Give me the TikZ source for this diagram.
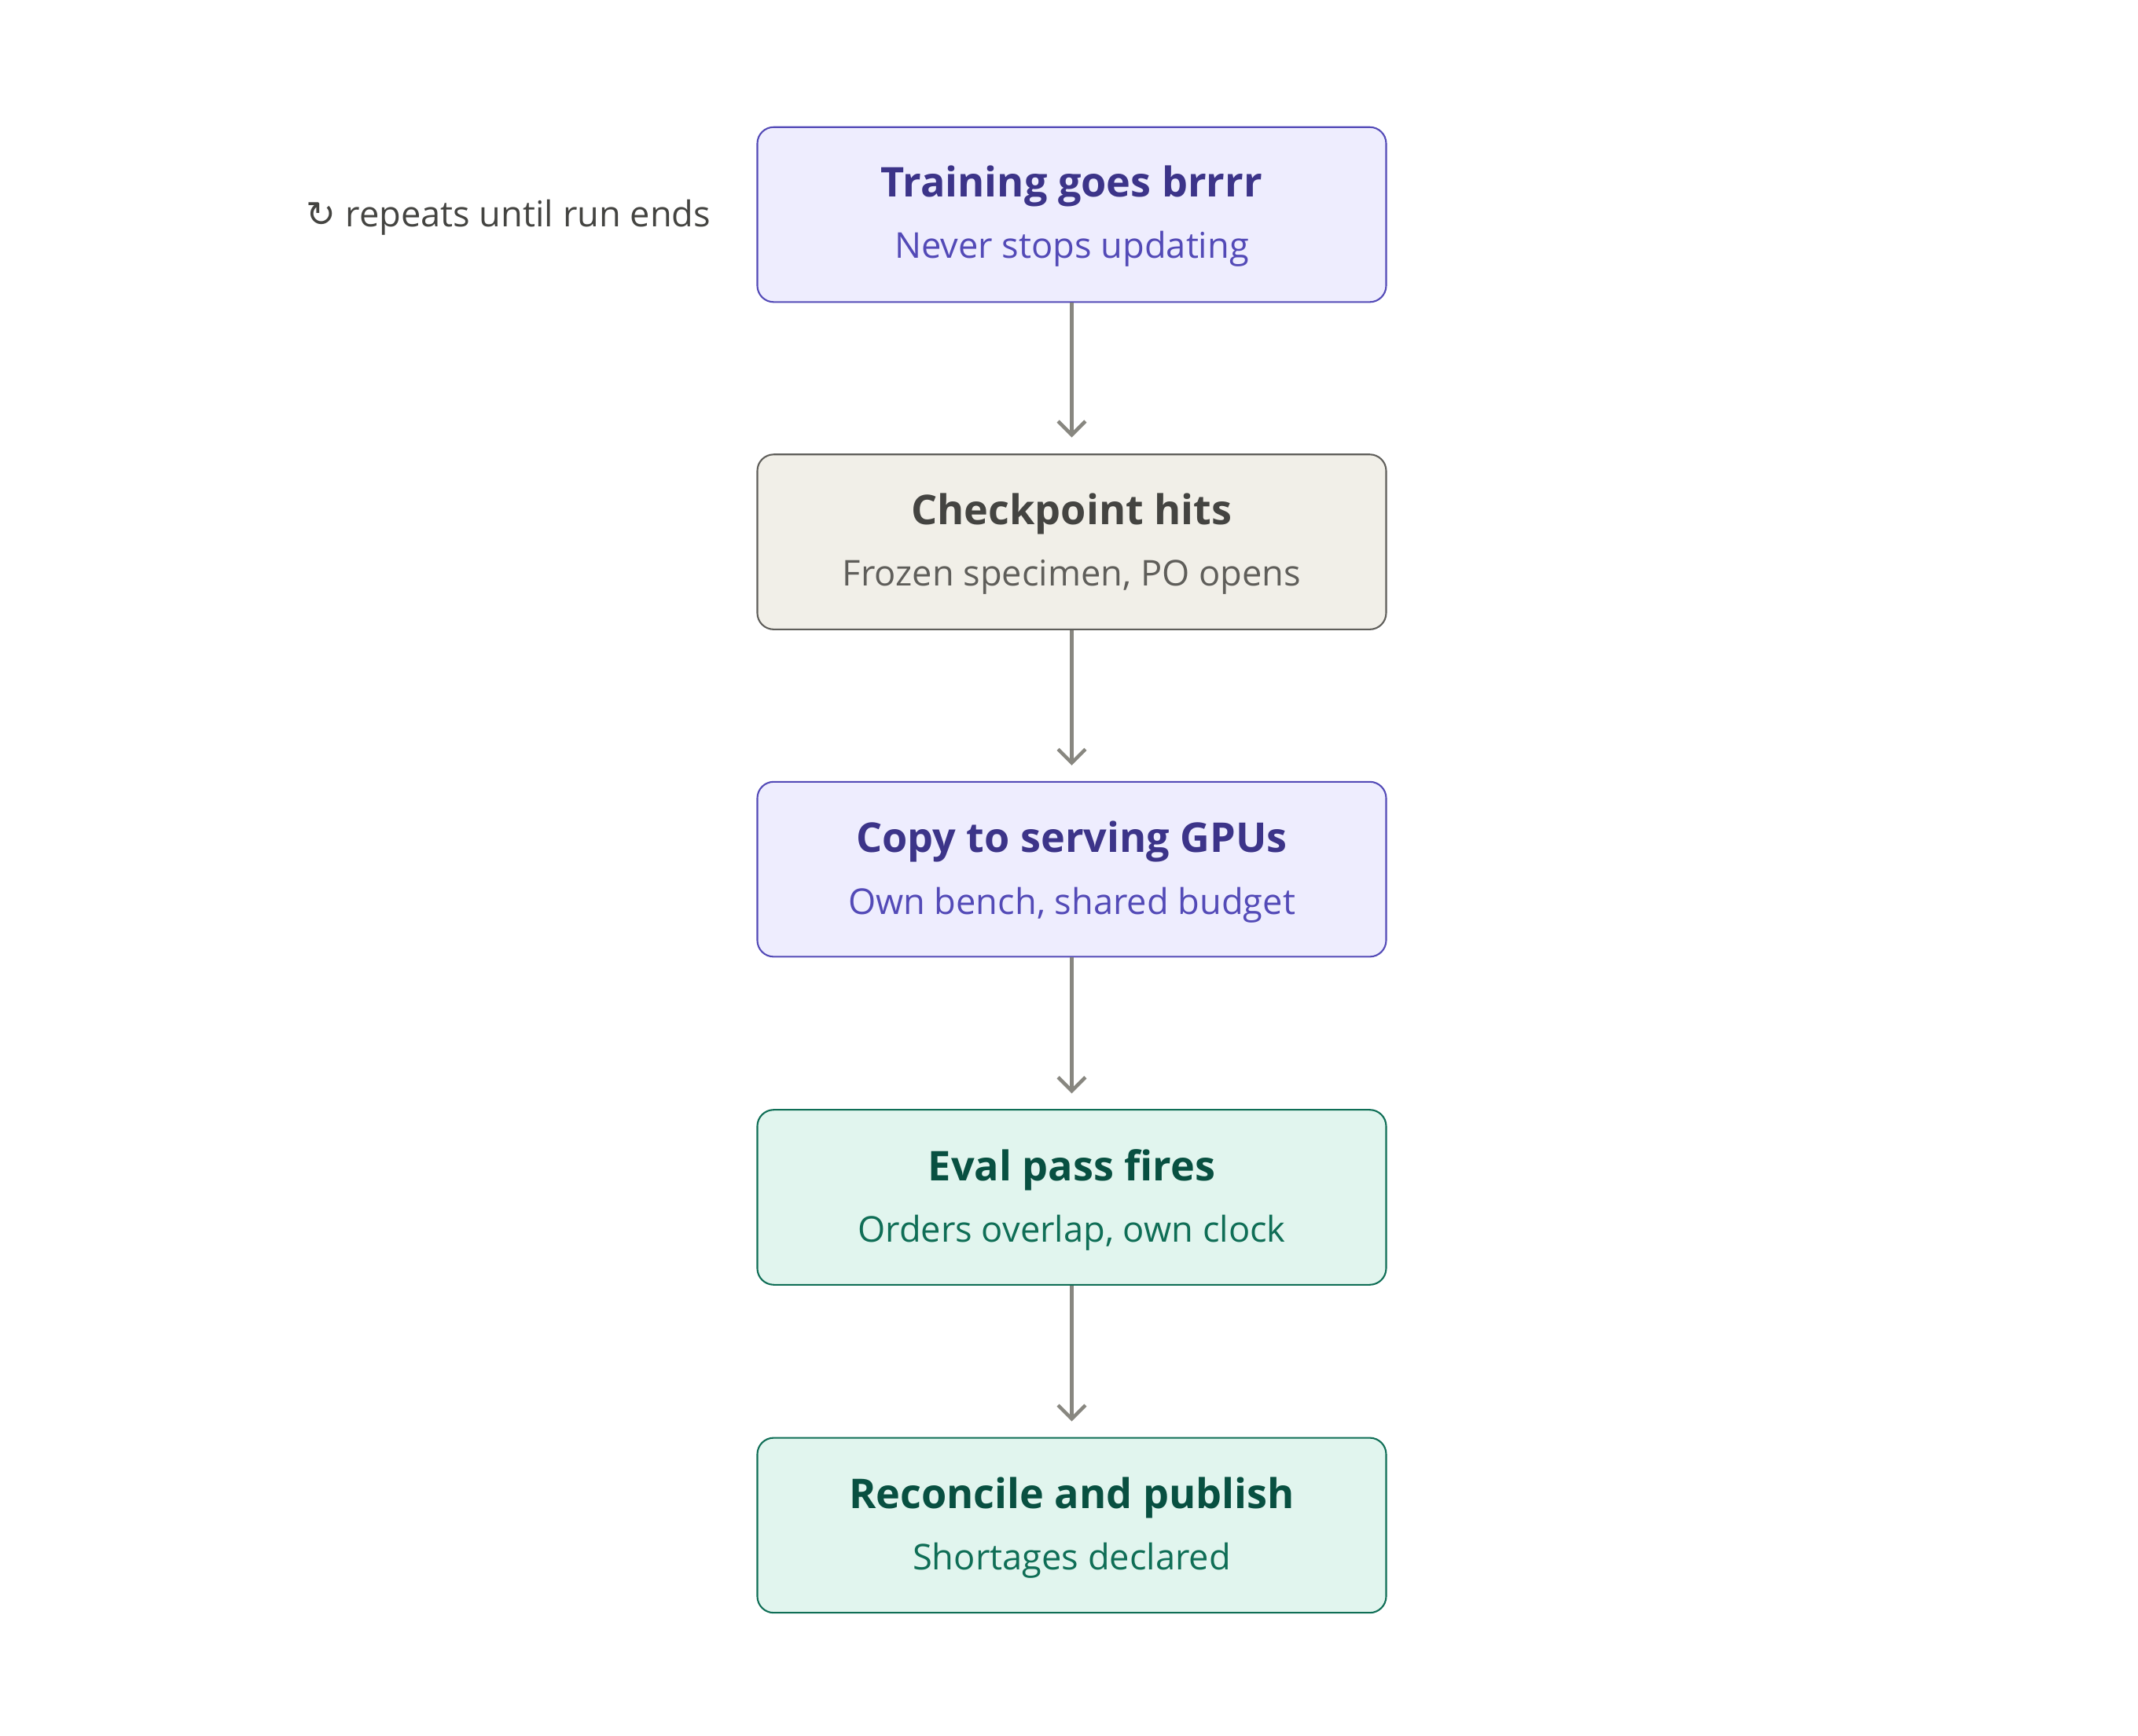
\documentclass[tikz,border=0pt]{standalone}
\usepackage{fontspec}
\setmainfont{Open Sans}
\newfontfamily\dvs{DejaVu Sans}
\usetikzlibrary{arrows.meta}
\definecolor{pf}{HTML}{EEEDFE}\definecolor{ps}{HTML}{534AB7}\definecolor{pt}{HTML}{3C3489}
\definecolor{gf}{HTML}{F1EFE8}\definecolor{gs}{HTML}{5F5E5A}\definecolor{gt}{HTML}{444441}
\definecolor{ef}{HTML}{E1F5EE}\definecolor{es}{HTML}{0F6E56}\definecolor{et}{HTML}{085041}
\definecolor{ar}{HTML}{888780}
\tikzset{
 box/.style={draw, rounded corners=6pt, line width=0.6pt, minimum width=230pt, minimum height=64pt},
 purple/.style={box, fill=pf, draw=ps},
 gray/.style={box, fill=gf, draw=gs},
 green/.style={box, fill=ef, draw=es},
 ttl/.style={font=\fontsize{15}{18}\selectfont\bfseries},
 sub/.style={font=\fontsize{13}{16}\selectfont},
 arr/.style={draw=ar, line width=1.3pt, -{Straight Barb[length=5pt,width=10pt]}}
}
\begin{document}
\begin{tikzpicture}[x=0.5pt,y=-0.5pt]
\useasboundingbox (0,0) rectangle (1564,1270);
\node[purple] (b1) at (784,157) {};
\node[gray]   (b2) at (784,396.5) {};
\node[purple] (b3) at (784,636) {};
\node[green]  (b4) at (784,876) {};
\node[green]  (b5) at (784,1116) {};
\node[ttl,text=pt] (t1) at (784,136) {Training goes brrrr};
\node[sub,text=ps] (s1) at (784,182) {Never stops updating};
\node[ttl,text=gt] (t2) at (784,376) {Checkpoint hits};
\node[sub,text=gs] (s2) at (784,422) {Frozen specimen, PO opens};
\node[ttl,text=pt] (t3) at (784,616) {Copy to serving GPUs};
\node[sub,text=ps] (s3) at (784,662) {Own bench, shared budget};
\node[ttl,text=et] (t4) at (784,856) {Eval pass fires};
\node[sub,text=es] (s4) at (784,902) {Orders overlap, own clock};
\node[ttl,text=et] (t5) at (784,1096) {Reconcile and publish};
\node[sub,text=es] (s5) at (784,1142) {Shortages declared};
\node[sub,text=gt,anchor=east] (lbl) at (527,159) {{\dvs ↻} repeats until run ends};
\coordinate (e1) at (784,320);\coordinate (e2) at (784,560);
\coordinate (e3) at (784,800);\coordinate (e4) at (784,1040);
\draw[arr] (b1.south) -- (e1);
\draw[arr] (b2.south) -- (e2);
\draw[arr] (b3.south) -- (e3);
\draw[arr] (b4.south) -- (e4);
\end{tikzpicture}
\end{document}
